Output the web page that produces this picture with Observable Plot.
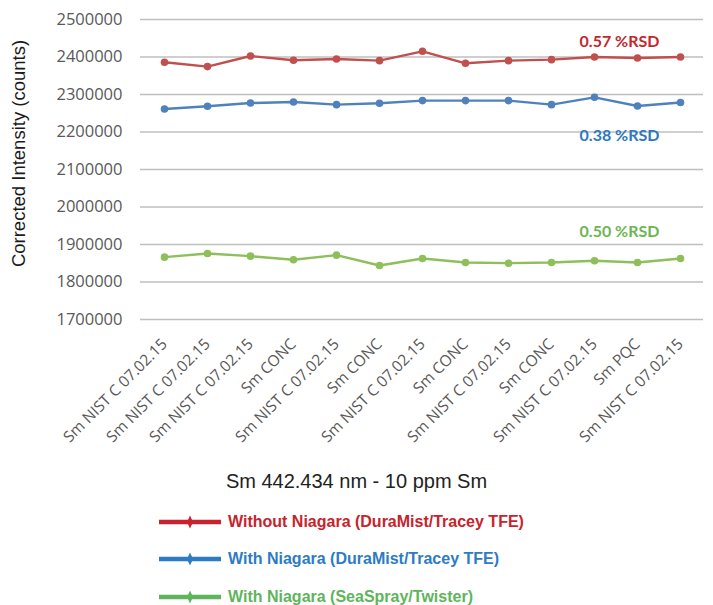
<!DOCTYPE html>
<html>
<head>
<meta charset="utf-8">
<script src="https://cdn.jsdelivr.net/npm/d3@7"></script>
<script src="https://cdn.jsdelivr.net/npm/@observablehq/plot@0.6"></script>
<style>
  body { margin: 0; background: #fff; }
  #chart { width: 713px; }
  .title { width: 713px; text-align: center; font-family: "Liberation Sans", Arial, sans-serif; font-size: 20px; color: #222; height: 40px; line-height: 42px; }
  .legend { position: relative; width: 713px; height: 105px; font-family: "Liberation Sans Narrow", "Liberation Sans", Arial, sans-serif; font-weight: bold; font-size: 16px; }
  .item { position: absolute; left: 159px; height: 20px; display: flex; align-items: center; }
  .item svg { margin-right: 7px; }
</style>
</head>
<body>
<div id="chart"></div>
<script>
const categories = ["Sm NIST C 07.02.15","Sm NIST C 07.02.15","Sm NIST C 07.02.15","Sm CONC","Sm NIST C 07.02.15","Sm CONC","Sm NIST C 07.02.15","Sm CONC","Sm NIST C 07.02.15","Sm CONC","Sm NIST C 07.02.15","Sm PQC","Sm NIST C 07.02.15"];
const seriesNames = ["Without Niagara (DuraMist/Tracey TFE)","With Niagara (DuraMist/Tracey TFE)","With Niagara (SeaSpray/Twister)"];
const withoutNiagara = [2385900,2374400,2402700,2391200,2394700,2390300,2415200,2383200,2390300,2393000,2400000,2397300,2400000];
const withNiagaraDura = [2261300,2268500,2277300,2280000,2273000,2276500,2283700,2283700,2283700,2273000,2292500,2269300,2278700];
const withNiagaraSea = [1866200,1876000,1868900,1859300,1871600,1844000,1862600,1852000,1850200,1852000,1856500,1852000,1862600];
const rsdLabels = ["0.57 %RSD","0.38 %RSD","0.50 %RSD"];
const rsdY = [2440000,2191000,1934700];
const yTicks = [1700000,1800000,1900000,2000000,2100000,2200000,2300000,2400000,2500000];

const lineColors = ["#c0504d","#4f81bd","#8dbf5a"];
const textColors = ["#c3272e","#2e78be","#6cb552"];
const legendColors = ["#c8232c","#2d7cc3","#5fb55c"];

const allSeries = [withoutNiagara, withNiagaraDura, withNiagaraSea];
const data = allSeries.flatMap((vals, s) => vals.map((v, i) => ({i, v, s})));
const annotations = rsdLabels.map((t, s) => ({t, y: rsdY[s], s}));
const idx = categories.map((_, i) => i);

const chart = Plot.plot({
  width: 713,
  height: 460,
  marginTop: 19,
  marginBottom: 141,
  marginLeft: 140,
  marginRight: 10,
  x: {type: "point", domain: idx, padding: 0.5},
  y: {domain: [1700000, 2500000]},
  marks: [
    Plot.gridY(yTicks, {stroke: "#bfbfbf", strokeOpacity: 1, strokeWidth: 1.3}),
    Plot.axisY(yTicks, {tickSize: 0, tickPadding: 18, tickFormat: d => String(d), fontSize: 16.5, fill: "#595959", fontFamily: "Open Sans", label: null}),
    Plot.text(["Corrected Intensity (counts)"], {frameAnchor: "left", textAnchor: "middle", dx: -121, dy: -16, rotate: -90, fontSize: 18.5, fontFamily: "Liberation Sans", fill: "#1a1a1a"}),
    Plot.axisX(idx, {tickSize: 0, tickRotate: -45, tickPadding: 22, tickFormat: i => categories[i], fontSize: 15.5, fill: "#595959", fontFamily: "Open Sans", label: null}),
    Plot.line(data, {x: "i", y: "v", z: "s", stroke: d => lineColors[d.s], strokeWidth: 2.4}),
    Plot.dot(data, {x: "i", y: "v", fill: d => lineColors[d.s], r: 3.8}),
    Plot.text(annotations, {x: () => 11, y: "y", text: "t", dx: -18, fill: d => textColors[d.s], fontSize: 16, fontWeight: "bold", fontFamily: "Lato"})
  ]
});
document.getElementById("chart").appendChild(chart);

const title = document.createElement("div");
title.className = "title";
title.textContent = "Sm 442.434 nm - 10 ppm Sm";
document.body.appendChild(title);

const legend = document.createElement("div");
legend.className = "legend";
seriesNames.forEach((name, s) => {
  const item = document.createElement("div");
  item.className = "item";
  item.style.top = (12 + s * 37.3) + "px";
  item.style.color = legendColors[s];
  item.innerHTML = `<svg width="62" height="14"><line x1="0" y1="7" x2="62" y2="7" stroke="${legendColors[s]}" stroke-width="4.5"/><path d="M31 0.5 L34 7 L31 13.5 L28 7 Z" fill="${legendColors[s]}"/></svg><span>${name}</span>`;
  legend.appendChild(item);
});
document.body.appendChild(legend);
</script>
</body>
</html>
